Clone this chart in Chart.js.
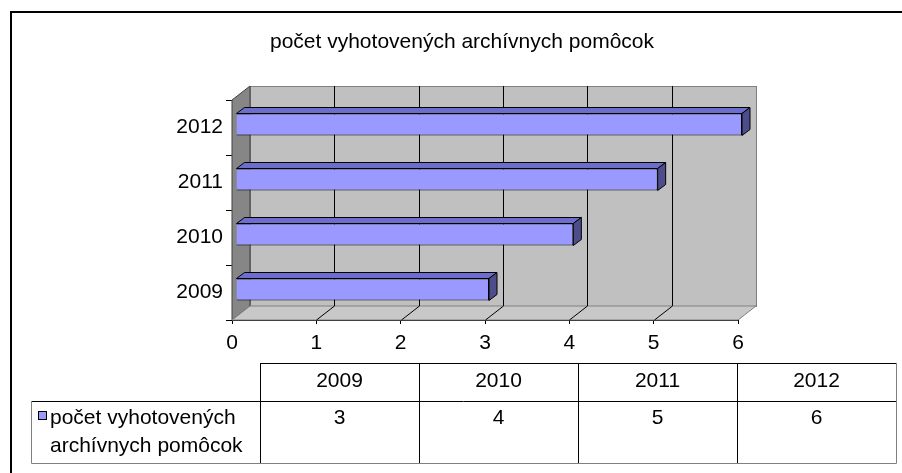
<!DOCTYPE html>
<html>
<head>
<meta charset="utf-8">
<script src="https://cdn.jsdelivr.net/npm/chart.js@4/dist/chart.umd.min.js"></script>
<style>
  html, body { margin: 0; padding: 0; background: #fff; }
  #chart { display: block; }
</style>
</head>
<body>
<canvas id="chart" width="902" height="473"></canvas>
<script>
const title = "počet vyhotovených archívnych pomôcok";
const categories = ["2009", "2010", "2011", "2012"];
const values = [3, 4, 5, 6];
const legendLines = ["počet vyhotovených", "archívnych pomôcok"];
const xMin = 0, xMax = 6, xStep = 1;

const FONT = "'Liberation Sans', Arial, sans-serif";
const depth = { x: 18, y: -14 };      // wall depth
const barShift = { x: 4, y: -3 };     // bar front face sits a bit inside
const barDepth = { x: 8, y: -6 };

// walls, floor and back gridlines
const walls = {
  id: "walls",
  beforeDatasetsDraw(chart) {
    const ctx = chart.ctx, a = chart.chartArea, xs = chart.scales.x;
    ctx.save();
    ctx.lineWidth = 1;
    // back wall
    ctx.fillStyle = "#c0c0c0";
    ctx.strokeStyle = "#808080";
    ctx.fillRect(a.left + depth.x, a.top + depth.y, a.right - a.left, a.bottom - a.top);
    ctx.strokeRect(a.left + depth.x + 0.5, a.top + depth.y + 0.5, a.right - a.left, a.bottom - a.top);
    // side wall
    ctx.fillStyle = "#868686";
    ctx.beginPath();
    ctx.moveTo(a.left, a.top);
    ctx.lineTo(a.left + depth.x, a.top + depth.y);
    ctx.lineTo(a.left + depth.x, a.bottom + depth.y);
    ctx.lineTo(a.left, a.bottom);
    ctx.closePath();
    ctx.fill();
    ctx.strokeStyle = "#404040";
    ctx.stroke();
    // floor
    ctx.fillStyle = "#c8c8c8";
    ctx.beginPath();
    ctx.moveTo(a.left, a.bottom);
    ctx.lineTo(a.left + depth.x, a.bottom + depth.y);
    ctx.lineTo(a.right + depth.x, a.bottom + depth.y);
    ctx.lineTo(a.right, a.bottom);
    ctx.closePath();
    ctx.fill();
    ctx.strokeStyle = "#808080";
    ctx.stroke();
    // gridlines on back wall and floor
    ctx.strokeStyle = "#000";
    for (let v = xMin + xStep; v < xMax; v += xStep) {
      const px = Math.round(xs.getPixelForValue(v)) + 0.5;
      ctx.beginPath();
      ctx.moveTo(px + depth.x, a.top + depth.y);
      ctx.lineTo(px + depth.x, a.bottom + depth.y);
      ctx.lineTo(px, a.bottom);
      ctx.stroke();
    }
    ctx.restore();
    // shift bars into the box
    ctx.save();
    ctx.translate(barShift.x, barShift.y);
  },
  afterDatasetsDraw(chart) {
    const ctx = chart.ctx;
    const meta = chart.getDatasetMeta(0);
    ctx.lineWidth = 1;
    ctx.strokeStyle = "#000";
    meta.data.forEach(bar => {
      const p = bar.getProps(["x", "y", "base", "height"], true);
      const l = Math.min(p.base, p.x), r = Math.max(p.base, p.x);
      const t = p.y - p.height / 2, b = p.y + p.height / 2;
      // top face
      ctx.fillStyle = "#6d6dcc";
      ctx.beginPath();
      ctx.moveTo(l, t);
      ctx.lineTo(l + barDepth.x, t + barDepth.y);
      ctx.lineTo(r + barDepth.x, t + barDepth.y);
      ctx.lineTo(r, t);
      ctx.closePath();
      ctx.fill();
      ctx.stroke();
      // side face
      ctx.fillStyle = "#4d4d8c";
      ctx.beginPath();
      ctx.moveTo(r, t);
      ctx.lineTo(r + barDepth.x, t + barDepth.y);
      ctx.lineTo(r + barDepth.x, b + barDepth.y);
      ctx.lineTo(r, b);
      ctx.closePath();
      ctx.fill();
      ctx.stroke();
    });
    ctx.restore();
  }
};

// title, outer frame and data table
const extras = {
  id: "extras",
  afterDraw(chart) {
    const ctx = chart.ctx;
    ctx.save();
    // frame
    ctx.strokeStyle = "#000";
    ctx.lineWidth = 2;
    ctx.strokeRect(11, 12, 900, 470);
    // title
    ctx.fillStyle = "#000";
    ctx.font = "21px " + FONT;
    ctx.textAlign = "center";
    ctx.textBaseline = "middle";
    ctx.fillText(title, 462, 42);

    // data table
    const colX = [260, 419, 578, 737, 896];
    const legendLeft = 31;
    const rowTop = 363, rowMid = 401, rowBot = 463;
    ctx.lineWidth = 1;
    ctx.strokeStyle = "#000";
    ctx.beginPath();
    ctx.moveTo(colX[0], rowTop + 0.5); ctx.lineTo(colX[4], rowTop + 0.5);
    ctx.moveTo(legendLeft, rowMid + 0.5); ctx.lineTo(colX[4], rowMid + 0.5);
    colX.slice(0, 4).forEach(x => { ctx.moveTo(x + 0.5, rowTop); ctx.lineTo(x + 0.5, rowBot); });
    ctx.stroke();
    ctx.strokeStyle = "#808080";
    ctx.beginPath();
    ctx.moveTo(legendLeft + 0.5, rowMid); ctx.lineTo(legendLeft + 0.5, rowBot + 0.5);
    ctx.lineTo(colX[4] + 0.5, rowBot + 0.5);
    ctx.lineTo(colX[4] + 0.5, rowTop);
    ctx.stroke();

    ctx.font = "21px " + FONT;
    ctx.fillStyle = "#000";
    ctx.textAlign = "center";
    categories.forEach((c, i) => {
      const cx = (colX[i] + colX[i + 1]) / 2;
      ctx.fillText(c, cx, 381);
      ctx.fillText(String(values[i]), cx, 418);
    });
    // legend key
    ctx.fillStyle = "#9999ff";
    ctx.fillRect(38, 411, 8, 8);
    ctx.strokeStyle = "#000";
    ctx.strokeRect(38.5, 411.5, 8, 8);
    ctx.fillStyle = "#000";
    ctx.textAlign = "left";
    ctx.fillText(legendLines[0], 50, 418);
    ctx.fillText(legendLines[1], 50, 446);
    ctx.restore();
  }
};

new Chart(document.getElementById("chart"), {
  type: "bar",
  data: {
    labels: categories,
    datasets: [{
      label: title,
      data: values,
      backgroundColor: "#9999ff",
      borderColor: "#000",
      borderWidth: 1,
      barPercentage: 0.4,
      categoryPercentage: 1,
      clip: false
    }]
  },
  options: {
    indexAxis: "y",
    responsive: false,
    animation: false,
    devicePixelRatio: 1,
    layout: { padding: { top: 100, right: 164, left: 0, bottom: 0 } },
    plugins: {
      legend: { display: false },
      title: { display: false },
      tooltip: { enabled: false }
    },
    scales: {
      x: {
        min: xMin,
        max: xMax,
        ticks: { stepSize: xStep, color: "#000", font: { family: FONT, size: 21 }, padding: 7 },
        grid: { drawOnChartArea: false, color: "#000", tickLength: 4 },
        border: { color: "#000" },
        afterFit(s) { s.height = 153; }
      },
      y: {
        reverse: true,
        ticks: { color: "#000", font: { family: FONT, size: 21 }, padding: 3 },
        grid: { drawOnChartArea: false, color: "#000", tickLength: 6 },
        border: { color: "#000" },
        afterFit(s) { s.width = 232; }
      }
    }
  },
  plugins: [walls, extras]
});
</script>
</body>
</html>
